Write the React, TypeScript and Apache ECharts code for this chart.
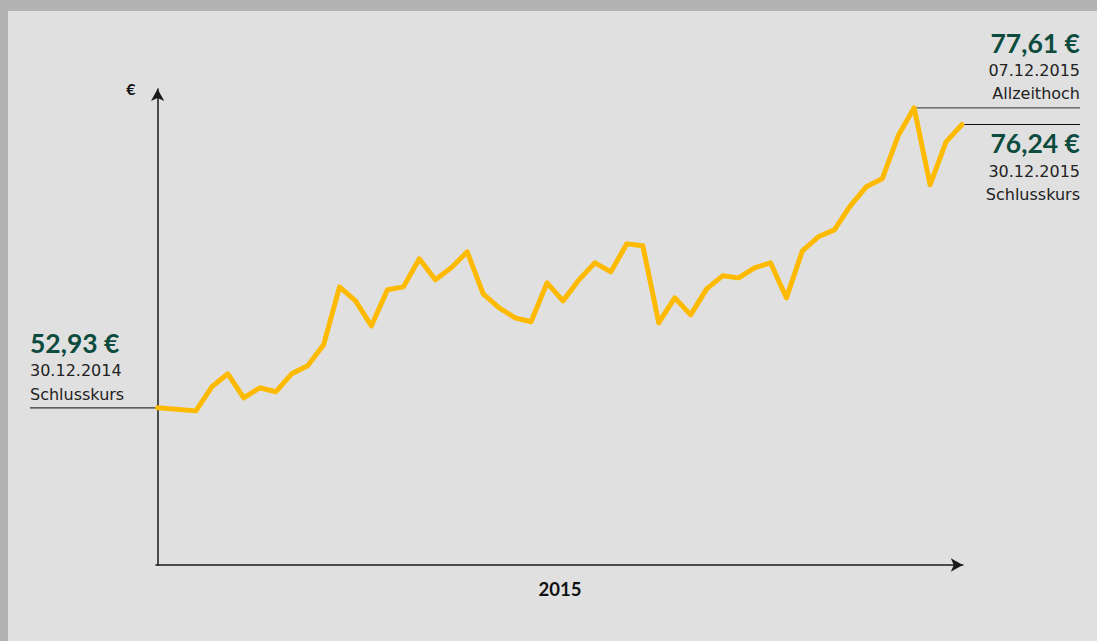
import React, { useEffect, useRef } from "react";
import * as echarts from "echarts";

// position of each weekly closing price along the x axis (weeks since 30.12.2014)
const weekPos = [
  0, 2.4, 3.4, 4.4, 5.4, 6.4, 7.4, 8.4, 9.4, 10.4,
  11.4, 12.4, 13.4, 14.4, 15.4, 16.4, 17.4, 18.4, 19.4, 20.4,
  21.4, 22.4, 23.4, 24.4, 25.4, 26.4, 27.4, 28.4, 29.4, 30.4,
  31.4, 32.4, 33.4, 34.4, 35.4, 36.4, 37.4, 38.4, 39.4, 40.4,
  41.4, 42.4, 43.4, 44.4, 45.4, 46.4, 47.4, 48.4, 49.4, 50.4,
];

const closePrices = [
  52.93, 52.68, 54.66, 55.73, 53.75, 54.58, 54.25, 55.73, 56.39, 58.11,
  62.88, 61.73, 59.68, 62.64, 62.88, 65.19, 63.46, 64.45, 65.76, 62.31,
  61.16, 60.33, 60.01, 63.21, 61.73, 63.46, 64.86, 64.12, 66.42, 66.26,
  59.92, 61.98, 60.58, 62.72, 63.79, 63.62, 64.45, 64.86, 61.98, 65.85,
  67.0, 67.57, 69.55, 71.11, 71.77, 75.31, 77.61, 71.28, 74.81, 76.24,
];

const yearLabel = "2015";
const currencyLabel = "€";
const startNote = ["52,93 €", "30.12.2014", "Schlusskurs"];
const highNote = ["77,61 €", "07.12.2015", "Allzeithoch"];
const endNote = ["76,24 €", "30.12.2015", "Schlusskurs"];
const startIndex = 0;
const highIndex = 46;
const endIndex = 49;

const BOLD_FONT = "Lato, 'Open Sans', sans-serif";
const REG_FONT = "'DejaVu Sans', 'Open Sans', sans-serif";
const GREEN = "#0d4b3e";
const TEXT = "#222222";

function noteTexts(id: string, lines: string[], x: number, ys: number[], align: "left" | "right") {
  return lines.map((t, i) => ({
    type: "text",
    id: `${id}-${i}`,
    x,
    y: ys[i],
    silent: true,
    z: 10,
    style: {
      text: t,
      fill: i === 0 ? GREEN : TEXT,
      font: i === 0 ? `bold 26.5px ${BOLD_FONT}` : `16px ${REG_FONT}`,
      textAlign: align,
      textVerticalAlign: "middle",
    },
  }));
}

export default function App() {
  const ref = useRef<HTMLDivElement>(null);

  useEffect(() => {
    if (!ref.current) return;
    const chart = echarts.init(ref.current, undefined, { renderer: "svg" });

    const axisLine = {
      show: true,
      symbol: ["none", "arrow"],
      symbolSize: [10, 12],
      lineStyle: { color: "#1a1a1a", width: 1.5 },
    };

    const baseGraphics: any[] = [
      {
        type: "rect",
        id: "bg",
        z: -1,
        silent: true,
        shape: { x: 8, y: 11, width: 1089, height: 630 },
        style: { fill: "#e0e0e0" },
      },
      {
        type: "text",
        id: "cur",
        x: 131,
        y: 88,
        silent: true,
        style: {
          text: currencyLabel,
          fill: "#111",
          font: `bold 16px ${BOLD_FONT}`,
          textAlign: "center",
          textVerticalAlign: "middle",
        },
      },
      {
        type: "text",
        id: "year",
        x: 560,
        y: 589,
        silent: true,
        style: {
          text: yearLabel,
          fill: "#111",
          font: `bold 18.5px ${BOLD_FONT}`,
          textAlign: "center",
          textVerticalAlign: "middle",
        },
      },
      ...noteTexts("start", startNote, 30, [343, 370, 394], "left"),
      ...noteTexts("high", highNote, 1080, [43, 70, 93], "right"),
      ...noteTexts("end", endNote, 1080, [143, 171, 194], "right"),
    ];

    const option: any = {
      animation: false,
      backgroundColor: "#b3b3b3",
      grid: { left: 156, top: 89, right: 1097 - 962.8, bottom: 641 - 565, containLabel: false },
      xAxis: {
        type: "value",
        min: -0.1,
        max: 50.45,
        axisLine,
        axisTick: { show: false },
        axisLabel: { show: false },
        splitLine: { show: false },
      },
      yAxis: {
        type: "value",
        min: 40,
        max: 79.16,
        axisLine,
        axisTick: { show: false },
        axisLabel: { show: false },
        splitLine: { show: false },
      },
      graphic: baseGraphics,
      series: [
        {
          type: "line",
          data: weekPos.map((w, i) => [w, closePrices[i]]),
          showSymbol: false,
          symbol: "none",
          z: 5,
          lineStyle: { color: "#fdba00", width: 5, join: "round", cap: "round" },
        },
      ],
    };
    chart.setOption(option);

    const px = (i: number) => chart.convertToPixel({ gridIndex: 0 }, [weekPos[i], closePrices[i]]) as number[];
    const ps = px(startIndex);
    const ph = px(highIndex);
    const pe = px(endIndex);

    const lines = [
      { id: "ls", x1: 30, y1: ps[1], x2: 156, y2: ps[1], c: "#333" },
      { id: "lh", x1: ph[0], y1: ph[1], x2: 1080, y2: ph[1], c: "#555" },
      { id: "le", x1: pe[0], y1: pe[1], x2: 1080, y2: pe[1], c: "#111" },
    ].map((l) => ({
      type: "line",
      id: l.id,
      silent: true,
      z: 1,
      shape: { x1: l.x1, y1: l.y1, x2: l.x2, y2: l.y2 },
      style: { stroke: l.c, lineWidth: 1.2 },
    }));

    chart.setOption({ graphic: [...baseGraphics, ...lines] });

    return () => chart.dispose();
  }, []);

  return (
    <div
      ref={ref}
      style={{ position: "fixed", left: 0, top: 0, width: 1097, height: 641 }}
    />
  );
}
